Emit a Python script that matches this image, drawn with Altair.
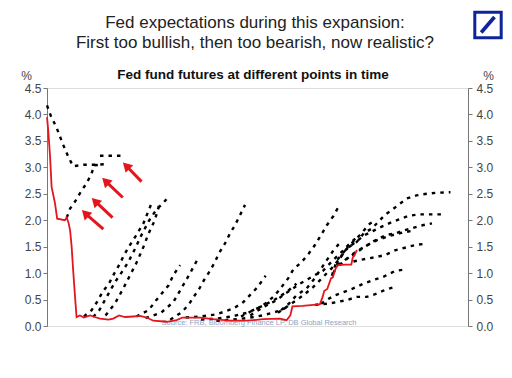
import altair as alt
import pandas as pd

# ---------------- data ----------------
year_ticks = list(range(2008, 2022))
rate_ticks = [0.0, 0.5, 1.0, 1.5, 2.0, 2.5, 3.0, 3.5, 4.0, 4.5]

title_lines = ["Fed expectations during this expansion:",
               "First too bullish, then too bearish, now realistic?"]
subtitle = "Fed fund futures at different points in time"
source_note = "Source: FRB, Bloomberg Finance LP, DB Global Research"

# effective fed funds rate (red)
fed_funds_x = [2008.0, 2008.04, 2008.1, 2008.15, 2008.26, 2008.33, 2008.58, 2008.64, 2008.7, 2008.75,
               2008.8, 2008.85, 2008.91, 2008.96, 2009.07, 2009.2, 2009.4, 2009.55, 2009.72, 2010.0,
               2010.15, 2010.34, 2010.53, 2010.8, 2011.02, 2011.24, 2011.45, 2011.89, 2012.21, 2012.4,
               2012.7, 2012.97, 2013.4, 2013.94, 2014.5, 2015.02, 2015.56, 2015.78, 2015.9, 2015.97,
               2016.3, 2016.65, 2016.86, 2016.95, 2017.0, 2017.1, 2017.22, 2017.28, 2017.38, 2017.45,
               2017.7, 2017.88, 2017.93, 2017.98, 2018.05, 2018.08]
fed_funds_y = [3.95, 3.7, 3.2, 2.63, 2.32, 2.03, 2.0, 2.05, 1.95, 1.81,
               1.5, 1.05, 0.55, 0.17, 0.2, 0.16, 0.2, 0.17, 0.14, 0.12,
               0.14, 0.2, 0.17, 0.18, 0.19, 0.16, 0.1, 0.08, 0.11, 0.16,
               0.16, 0.16, 0.13, 0.1, 0.1, 0.13, 0.14, 0.11, 0.2, 0.37,
               0.38, 0.4, 0.41, 0.55, 0.66, 0.7, 0.9, 0.92, 1.1, 1.15,
               1.16, 1.16, 1.3, 1.33, 1.42, 1.43]

# fed fund futures curves at different points in time (year, %)
fut_2008a = [(2008.0, 4.17), (2008.12, 3.98), (2008.31, 3.75), (2008.53, 3.42), (2008.69, 3.2),
             (2008.85, 3.02), (2009.2, 3.05), (2009.6, 3.05), (2009.88, 3.06)]
fut_2008b = [(2008.64, 2.05), (2008.75, 2.22), (2008.94, 2.38), (2009.13, 2.57), (2009.29, 2.7),
             (2009.45, 2.89), (2009.54, 3.04), (2009.75, 3.05)]
fut_2009a = [(2009.72, 3.22), (2010.48, 3.22)]
fut_2009b = [(2009.2, 0.18), (2009.45, 0.3), (2009.63, 0.46), (2009.81, 0.65), (2010.02, 0.81),
             (2010.18, 0.99), (2010.35, 1.16), (2010.5, 1.34), (2010.67, 1.51), (2010.88, 1.7),
             (2011.13, 1.94), (2011.38, 2.3)]
fut_2009c = [(2009.5, 0.17), (2009.7, 0.3), (2009.88, 0.49), (2010.21, 0.83), (2010.43, 1.02),
             (2010.64, 1.21), (2010.85, 1.45), (2011.05, 1.7), (2011.3, 1.98), (2011.55, 2.2),
             (2011.78, 2.33), (2011.94, 2.44)]
fut_2009d = [(2009.9, 0.2), (2010.2, 0.42), (2010.45, 0.68), (2010.75, 1.02), (2010.9, 1.19),
             (2011.1, 1.45), (2011.3, 1.75), (2011.5, 2.0), (2011.65, 2.3)]
fut_2010 = [(2010.9, 0.18), (2011.3, 0.3), (2011.55, 0.49), (2011.95, 0.77), (2012.1, 0.96),
            (2012.32, 1.15)]
fut_2011 = [(2011.2, 0.15), (2011.7, 0.25), (2012.1, 0.45), (2012.4, 0.75), (2012.6, 0.95),
            (2012.9, 1.27)]
fut_2012a = [(2012.0, 0.12), (2012.35, 0.25), (2012.6, 0.4), (2012.75, 0.54), (2012.94, 0.7),
             (2013.1, 0.87), (2013.29, 1.04), (2013.45, 1.21), (2013.6, 1.39), (2013.78, 1.56),
             (2013.94, 1.75), (2014.1, 1.9), (2014.27, 2.1), (2014.43, 2.29)]
fut_2012b = [(2012.5, 0.16), (2013.0, 0.18), (2013.5, 0.22), (2014.05, 0.33), (2014.37, 0.45),
             (2014.83, 0.73), (2015.1, 0.95)]
fut_2013a = [(2013.0, 0.12), (2013.5, 0.14), (2014.0, 0.18), (2014.5, 0.25), (2015.0, 0.38),
             (2015.4, 0.5), (2015.8, 0.65), (2016.1, 0.8)]
fut_2013b = [(2013.5, 0.1), (2014.0, 0.12), (2014.5, 0.15), (2015.0, 0.2), (2015.5, 0.28),
             (2015.9, 0.38)]
fut_2014a = [(2014.3, 0.18), (2014.6, 0.27), (2014.92, 0.36), (2015.15, 0.45), (2015.4, 0.58),
             (2015.62, 0.74), (2015.83, 0.9), (2016.0, 1.07), (2016.27, 1.21), (2016.5, 1.37),
             (2016.7, 1.53), (2016.9, 1.72), (2017.08, 1.9), (2017.3, 2.08), (2017.46, 2.25)]
fut_2014b = [(2014.6, 0.2), (2015.03, 0.36), (2015.46, 0.49), (2015.73, 0.61), (2016.21, 0.8),
             (2016.97, 1.05), (2017.35, 1.28), (2017.62, 1.43), (2017.78, 1.53), (2018.1, 1.7)]
fut_2015a = [(2015.5, 0.25), (2016.0, 0.45), (2016.32, 0.58), (2016.65, 0.74), (2016.92, 0.9),
             (2017.24, 1.09), (2017.51, 1.28), (2017.78, 1.5), (2018.16, 1.72), (2018.49, 1.94),
             (2018.6, 1.97)]
fut_2015b = [(2015.6, 0.3), (2015.85, 0.42), (2016.1, 0.58), (2016.43, 0.71), (2016.65, 0.87),
             (2016.86, 1.05), (2017.08, 1.24), (2017.3, 1.43), (2017.55, 1.6)]
fut_2016a = [(2016.7, 0.4), (2017.1, 0.42), (2017.4, 0.45), (2017.73, 0.49), (2018.06, 0.55),
             (2018.38, 0.55), (2018.7, 0.61), (2018.97, 0.68), (2019.3, 0.74)]
fut_2016b = [(2016.9, 0.42), (2017.1, 0.5), (2017.35, 0.58), (2017.62, 0.64), (2017.94, 0.71),
             (2018.27, 0.8), (2018.6, 0.87), (2018.92, 0.93), (2019.3, 1.04), (2019.62, 1.07)]
fut_2017a = [(2017.25, 0.95), (2017.41, 1.24), (2017.74, 1.47), (2018.06, 1.59), (2018.28, 1.75),
             (2018.54, 1.84), (2018.76, 1.97), (2018.97, 2.1), (2019.19, 2.19), (2019.41, 2.29),
             (2019.68, 2.41), (2020.0, 2.47), (2020.33, 2.5), (2020.65, 2.52), (2021.1, 2.53)]
fut_2017b = [(2017.3, 1.0), (2017.62, 1.4), (2017.89, 1.53), (2018.32, 1.72), (2018.87, 1.88),
             (2019.14, 1.95), (2019.41, 2.01), (2019.73, 2.08), (2020.06, 2.11), (2020.81, 2.11)]
fut_2017c = [(2017.45, 1.15), (2017.8, 1.3), (2018.2, 1.45), (2018.6, 1.6), (2019.0, 1.72),
             (2019.3, 1.75), (2019.6, 1.81), (2019.85, 1.85), (2020.15, 1.9), (2020.5, 1.94)]
fut_2017d = [(2017.5, 1.15), (2017.9, 1.35), (2018.3, 1.5), (2018.7, 1.62), (2019.1, 1.7),
             (2019.5, 1.76), (2019.85, 1.8)]
fut_2018 = [(2017.95, 1.22), (2018.27, 1.26), (2018.65, 1.3), (2018.97, 1.34), (2019.3, 1.43),
            (2019.62, 1.48), (2019.95, 1.53), (2020.33, 1.56)]

futures = {
    "2008a": fut_2008a, "2008b": fut_2008b, "2009a": fut_2009a, "2009b": fut_2009b,
    "2009c": fut_2009c, "2009d": fut_2009d, "2010": fut_2010, "2011": fut_2011,
    "2012a": fut_2012a, "2012b": fut_2012b, "2013a": fut_2013a, "2013b": fut_2013b,
    "2014a": fut_2014a, "2014b": fut_2014b, "2015a": fut_2015a, "2015b": fut_2015b,
    "2016a": fut_2016a, "2016b": fut_2016b, "2017a": fut_2017a, "2017b": fut_2017b,
    "2017c": fut_2017c, "2017d": fut_2017d, "2018": fut_2018,
}

# red arrows (annotation), data units
arrow_tail_x = [2011.07, 2010.46, 2010.13, 2009.83]
arrow_tail_y = [2.73, 2.43, 2.05, 1.83]
arrow_head_x = [2010.57, 2009.90, 2009.56, 2009.24]
arrow_head_y = [3.03, 2.74, 2.36, 2.13]

# ---------------- tables ----------------
fut_rows = []
for name, pts in futures.items():
    for i, (x, y) in enumerate(pts):
        fut_rows.append({"curve": name, "i": i, "x": x, "y": y})
fut_df = pd.DataFrame(fut_rows)
ff_df = pd.DataFrame({"x": fed_funds_x, "y": fed_funds_y, "i": range(len(fed_funds_x))})
arr_df = pd.DataFrame({"x": arrow_tail_x, "y": arrow_tail_y, "x2": arrow_head_x, "y2": arrow_head_y})

W, H = 421, 238
FONT = "Liberation Sans, Arial, sans-serif"
RED = "#e3161d"
XMAX = 2021.67

xs = alt.Scale(domain=[2008, XMAX], nice=False, zero=False)
ys = alt.Scale(domain=[0, 4.5], nice=False, zero=True)

x_axis = alt.Axis(values=year_ticks, format="d", title=None, grid=False, labelFont=FONT,
                  labelFontSize=10, labelColor="#333", tickSize=4, labelPadding=2,
                  domainColor="#777", tickColor="#777", labelFlush=False, labelOverlap=False)
y_left = alt.Axis(values=rate_ticks, format=".1f", title="%", titleAngle=0, titleAlign="center",
                  titleBaseline="bottom", titleX=-21, titleY=-6, titleFont=FONT, titleFontSize=12,
                  titleFontWeight="normal", titleColor="#444", grid=False, labelFont=FONT,
                  labelFontSize=12, labelColor="#444", tickSize=4, labelPadding=2,
                  domainColor="#777", tickColor="#777", labelFlush=False, orient="left")
y_right = alt.Axis(values=rate_ticks, format=".1f", title="%", titleAngle=0, titleAlign="center",
                   titleBaseline="bottom", titleX=20, titleY=-6, titleFont=FONT, titleFontSize=12,
                   titleFontWeight="normal", titleColor="#444", grid=False, labelFont=FONT,
                   labelFontSize=12, labelColor="#444", tickSize=4, labelPadding=4,
                   domainColor="#777", tickColor="#777", labelFlush=False, orient="right")

src = alt.Chart(pd.DataFrame({"x": [2011.72], "y": [0.0], "t": [source_note]})).mark_text(
    align="left", baseline="alphabetic", dy=-1, font=FONT, fontSize=7.5, color="#8ea3c4"
).encode(x=alt.X("x:Q", scale=xs, axis=x_axis), y=alt.Y("y:Q", scale=ys, axis=None), text="t:N")

fut = alt.Chart(fut_df).mark_line(
    color="#000", strokeWidth=2.4, strokeDash=[3.5, 5], strokeCap="butt"
).encode(
    x=alt.X("x:Q", scale=xs, axis=None),
    y=alt.Y("y:Q", scale=ys, axis=y_left),
    detail="curve:N", order="i:Q",
)

red = alt.Chart(ff_df).mark_line(color=RED, strokeWidth=1.8).encode(
    x=alt.X("x:Q", scale=xs, axis=None),
    y=alt.Y("y:Q", scale=ys, axis=y_right),
    order="i:Q",
)

arr_lines = alt.Chart(arr_df).mark_rule(color=RED, strokeWidth=3).encode(
    x=alt.X("x:Q", scale=xs, axis=None), y=alt.Y("y:Q", scale=ys, axis=None),
    x2="x2:Q", y2="y2:Q",
)
arr_heads = alt.Chart(arr_df).mark_point(
    shape="triangle-up", filled=True, color=RED, size=115, angle=315, opacity=1
).encode(x=alt.X("x2:Q", scale=xs, axis=None), y=alt.Y("y2:Q", scale=ys, axis=None))

t1 = alt.Chart(pd.DataFrame({"t": [title_lines[0]]})).mark_text(
    font=FONT, fontSize=17, color="#222", align="center", baseline="alphabetic"
).encode(text="t:N", x=alt.value(208), y=alt.value(-60))
t2 = alt.Chart(pd.DataFrame({"t": [title_lines[1]]})).mark_text(
    font=FONT, fontSize=17, color="#222", align="center", baseline="alphabetic"
).encode(text="t:N", x=alt.value(208), y=alt.value(-40))
t3 = alt.Chart(pd.DataFrame({"t": [subtitle]})).mark_text(
    font=FONT, fontSize=13.5, fontWeight="bold", color="#111", align="center", baseline="alphabetic"
).encode(text="t:N", x=alt.value(206), y=alt.value(-9))

# Deutsche Bank style logo box (decoration)
logo_df = pd.DataFrame({"k": [0]})
logo_box = alt.Chart(logo_df).mark_rect(fill="white", stroke="#0f2499", strokeWidth=3).encode(
    x=alt.value(427.8), x2=alt.value(454.2), y=alt.value(-75.8), y2=alt.value(-50.2))
logo_slash = alt.Chart(logo_df).mark_rule(color="#0f2499", strokeWidth=3.6).encode(
    x=alt.value(434.2), x2=alt.value(447.5), y=alt.value(-55.5), y2=alt.value(-71))

chart = alt.layer(
    src, fut, red, arr_lines, arr_heads, t1, t2, t3, logo_box, logo_slash
).resolve_axis(y="independent").properties(
    width=W, height=H, autosize="none",
    padding={"left": 39, "top": 80, "right": 36, "bottom": 44},
).configure_view(stroke=None).configure(background="white")

chart.save("out.html", embed_options={"renderer": "svg", "actions": False})
